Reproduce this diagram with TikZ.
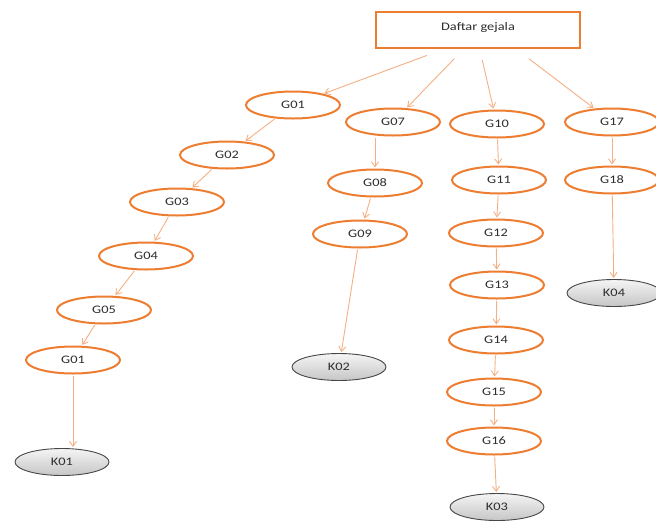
\documentclass[tikz,border=0pt]{standalone}
\usepackage{fontspec}
\setmainfont{Carlito}[FakeStretch=1.25]
\usetikzlibrary{shapes.geometric,arrows.meta,calc}
\definecolor{sympt}{RGB}{237,125,49}
\definecolor{linkc}{RGB}{244,176,132}
\definecolor{txt}{RGB}{45,45,45}
\tikzset{
  lbl/.style={text=txt,font=\fontsize{11.5}{12}\selectfont},
  gej/.style={ellipse,draw=sympt,line width=2pt,fill=white,minimum width=94pt,minimum height=27pt,inner sep=0pt,lbl},
  hasil/.style={ellipse,draw=gray!55!black,line width=0.9pt,top color=gray!8,bottom color=gray!45,minimum width=94pt,minimum height=27pt,inner sep=0pt,lbl},
  link/.style={draw=linkc,line width=0.9pt,-{Straight Barb[length=5pt,width=7pt]},shorten >=1pt,shorten <=1pt}
}
\begin{document}
\begin{tikzpicture}[x=1pt,y=-1pt]
\useasboundingbox (0,0) rectangle (656,523);
% root box
\node[draw=sympt,line width=2pt,minimum width=204pt,minimum height=36pt,lbl,anchor=center] (box) at (478,30) {\raisebox{7pt}{Daftar gejala}};
\coordinate (s1) at (428,55);
\coordinate (s2) at (455,58);
\coordinate (s3) at (482,59);
\coordinate (s4) at (528,58);
% left branch
\node[gej] (a1) at (293,105) {G01};
\node[gej] (a2) at (227,155) {G02};
\node[gej] (a3) at (177,202) {G03};
\node[gej] (a4) at (146,256) {G04};
\node[gej] (a5) at (104,310) {G05};
\node[gej] (a6) at (73,360) {G01};
\node[hasil] (k1) at (62,462) {K01};
% second branch
\node[gej] (b1) at (393,122) {G07};
\node[gej] (b2) at (375,183) {G08};
\node[gej] (b3) at (360,234) {G09};
\node[hasil] (k2) at (339,367) {K02};
% third branch
\node[gej] (c1) at (497,124) {G10};
\node[gej] (c2) at (499,180) {G11};
\node[gej] (c3) at (496,233) {G12};
\node[gej] (c4) at (497,285) {G13};
\node[gej] (c5) at (496,340) {G14};
\node[gej] (c6) at (494,392) {G15};
\node[gej] (c7) at (494,441) {G16};
\node[hasil] (k3) at (497,507) {K03};
% fourth branch
\node[gej] (d1) at (612,122) {G17};
\node[gej] (d2) at (612,180) {G18};
\node[hasil] (k4) at (614,293) {K04};
% connectors
\draw[link] (s1) -- (a1);
\draw[link] (s2) -- (b1);
\draw[link] (s3) -- (c1);
\draw[link] (s4) -- (d1);
\draw[link] (a1) -- (a2);
\draw[link] (a2) -- (a3);
\draw[link] (a3) -- (a4);
\draw[link] (a4) -- (a5);
\draw[link] (a5) -- (a6);
\draw[link] (a6) -- (a6 |- k1.north);
\draw[link] (b1.south -| b2.north) -- (b2.north);
\draw[link] (b2) -- (b3);
\draw[link] (b3) -- (k2);
\draw[link] (c1) -- (c2);
\draw[link] (c2) -- (c3);
\draw[link] (c3) -- (c4);
\draw[link] (c4) -- (c5);
\draw[link] (c5) -- (c6);
\draw[link] (c6) -- (c7);
\draw[link] (c7) -- (k3);
\draw[link] (d1) -- (d2);
\draw[link] (d2) -- (k4);
\end{tikzpicture}
\end{document}
